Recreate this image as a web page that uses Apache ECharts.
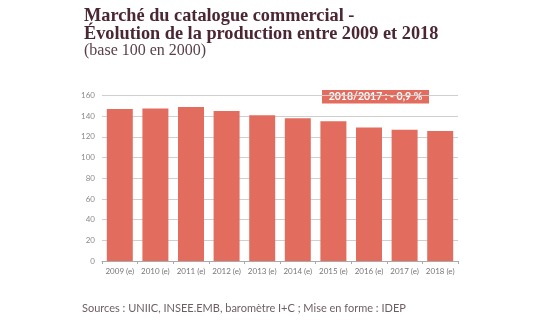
<!DOCTYPE html>
<html>
<head>
<meta charset="utf-8">
<script src="https://cdn.jsdelivr.net/npm/echarts@6/dist/echarts.min.js"></script>
<style>
  html, body { margin: 0; padding: 0; background: #fff; }
  #chart { width: 540px; height: 326px; }
</style>
</head>
<body>
<div id="chart"></div>
<script>
// Catalogue production index, base 100 in 2000
const categories = ['2009 (e)', '2010 (e)', '2011 (e)', '2012 (e)', '2013 (e)',
                    '2014 (e)', '2015 (e)', '2016 (e)', '2017 (e)', '2018 (e)'];
const values = [147, 147.5, 149, 145, 141, 138, 135, 129, 127, 125.8];
const yTicks = { min: 0, max: 160, interval: 20 };
const badgeText = '2018/2017 : - 0,9 %';

const barColor = '#e26c5e';
const titleColor = '#4b2733';

const chart = echarts.init(document.getElementById('chart'), null, { renderer: 'canvas' });

chart.setOption({
  animation: false,
  backgroundColor: '#fff',
  grid: { left: 102, right: 82, top: 95.5, bottom: 65, containLabel: false },
  xAxis: {
    type: 'category',
    data: categories,
    axisLine: { lineStyle: { color: '#aaa', width: 1 } },
    axisTick: { show: true, length: 3, lineStyle: { color: '#aaa' } },
    axisLabel: { color: '#777', fontSize: 8, fontFamily: 'Lato', margin: 6, interval: 0 }
  },
  yAxis: {
    type: 'value',
    min: yTicks.min,
    max: yTicks.max,
    interval: yTicks.interval,
    axisLine: { show: false },
    axisTick: { show: false },
    axisLabel: { color: '#8a8a8a', fontSize: 8, fontFamily: 'Lato', margin: 7 },
    splitLine: { lineStyle: { color: '#cfcfcf', width: 1 } }
  },
  series: [{
    type: 'bar',
    data: values,
    barWidth: '73%',
    itemStyle: { color: barColor }
  }],
  graphic: [
    {
      type: 'text', left: 84, top: 7,
      style: {
        text: 'Marché du catalogue commercial -\nÉvolution de la production entre 2009 et 2018',
        font: 'bold 18.3px "Liberation Serif"', fill: titleColor, lineHeight: 18.5
      }
    },
    {
      type: 'text', left: 84, top: 43,
      style: {
        text: '(base 100 en 2000)',
        font: '16px "Liberation Serif"', fill: '#5a4048'
      }
    },
    {
      type: 'group', left: 322, top: 90,
      children: [
        { type: 'rect', shape: { x: 0, y: 0, width: 107, height: 13.5 }, style: { fill: barColor } },
        {
          type: 'text', style: {
            text: badgeText, x: 53.5, y: 7, align: 'center', verticalAlign: 'middle',
            font: 'bold 10.5px Lato', fill: '#fff'
          }
        }
      ]
    },
    {
      type: 'text', left: 82, top: 303,
      style: {
        text: 'Sources : UNIIC, INSEE.EMB, baromètre I+C ; Mise en forme : IDEP',
        font: '11px Lato', fill: '#6d5e63'
      }
    }
  ]
});
</script>
</body>
</html>
